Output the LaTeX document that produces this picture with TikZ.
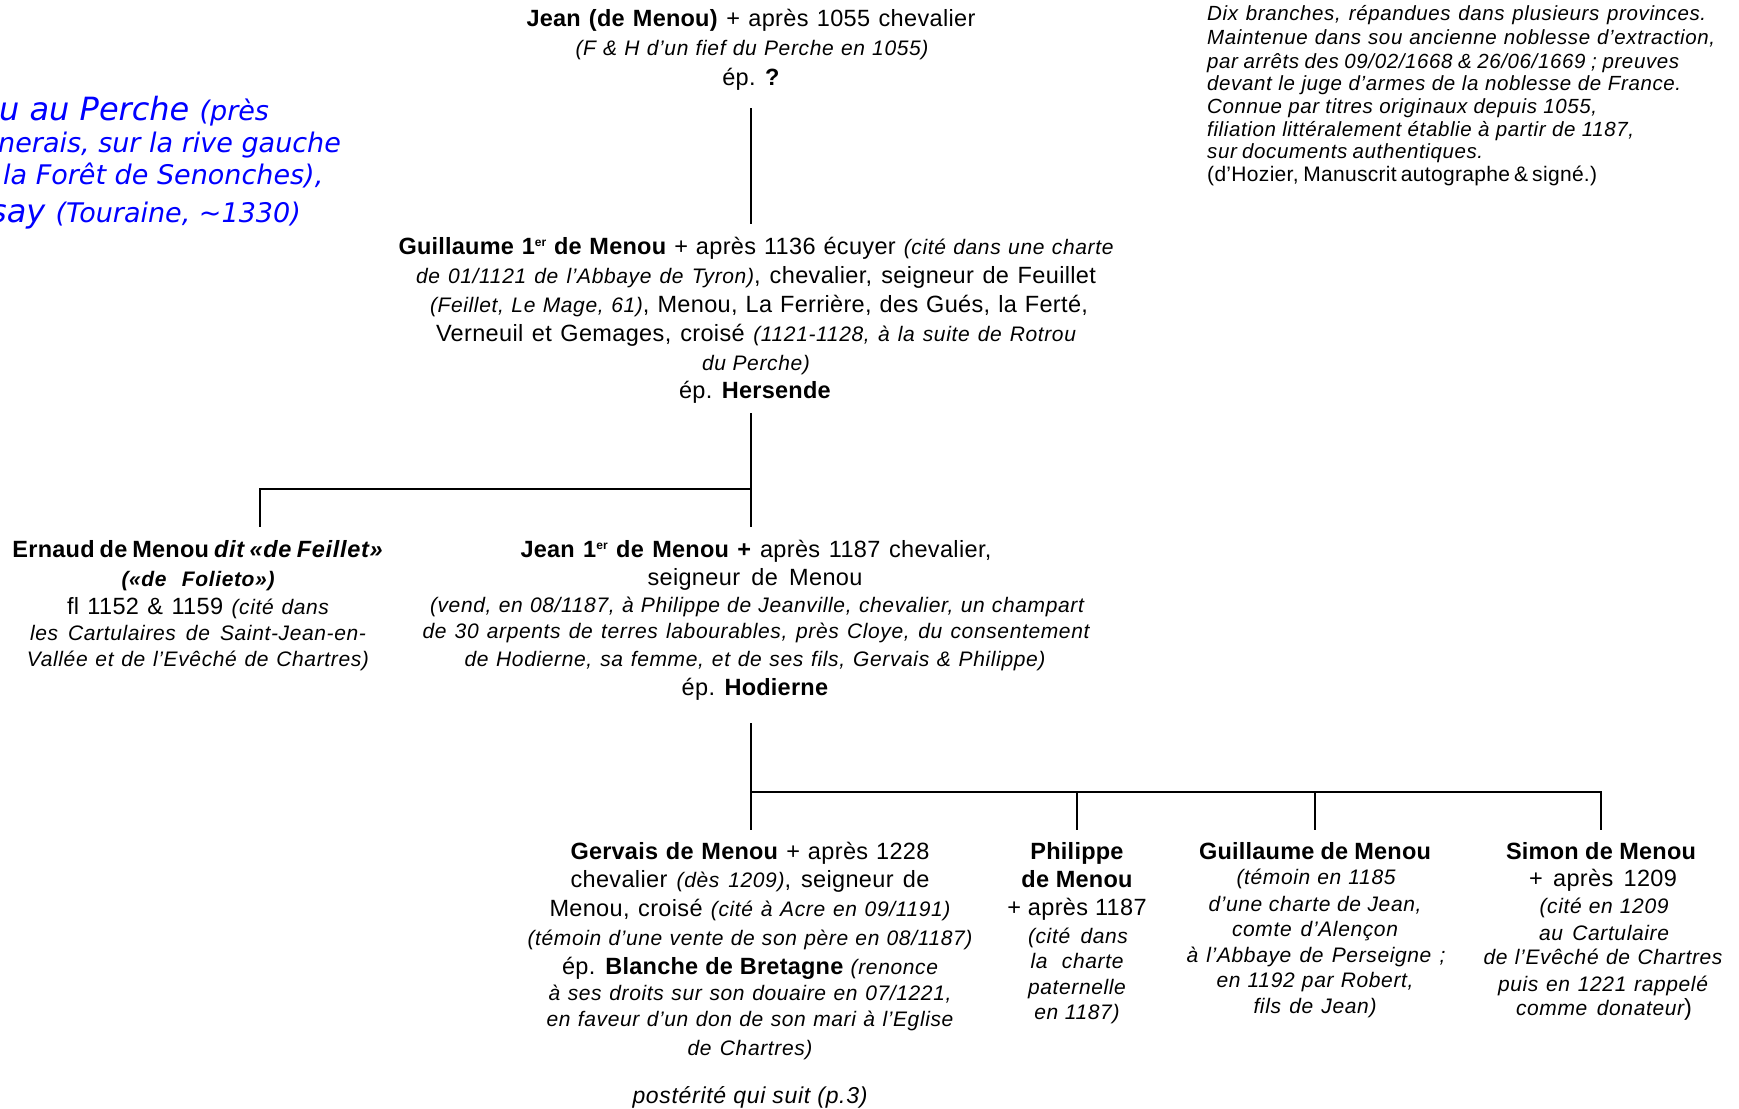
\documentclass[tikz,border=0pt]{standalone}
\usepackage{fontspec}
\setmainfont{Liberation Sans}[UprightFeatures={LetterSpace=1.5},BoldFeatures={LetterSpace=1.0},ItalicFeatures={LetterSpace=3},BoldItalicFeatures={LetterSpace=3}]
\newfontfamily\bluefont{DejaVu Sans}
\definecolor{tblue}{RGB}{0,0,255}
\newcommand\rg{\fontsize{23.5pt}{28pt}\selectfont}
\newcommand\nt{\fontsize{21pt}{25pt}\selectfont\itshape}
\newcommand\tr{\fontsize{20.5pt}{22pt}\selectfont\itshape}
\newcommand\W[2]{\makebox[#1pt][s]{#2}}
\newcommand\bigb{\fontsize{32pt}{32pt}\selectfont}
\newcommand\smb{\fontsize{27pt}{27pt}\selectfont}
\newcommand\ersup{\raisebox{8pt}{\fontsize{12pt}{12pt}\selectfont er}}
\begin{document}
\begin{tikzpicture}[x=1pt,y=-1pt,
  ln/.style={anchor=base,inner sep=0pt,text height=17pt,text depth=5pt},
  lw/.style={ln,anchor=base west},
  bl/.style={anchor=base west,inner sep=0pt,text=tblue,font=\bluefont\itshape},
  link/.style={line width=2.5pt,draw=black,line join=miter}]
\useasboundingbox (0,0) rectangle (1739,1108);

% blue text (cut at left edge, as in the reference)
\node[bl] (b1) at (-1,120) {\bigb u au Perche \smb(près};
\node[bl] (b2) at (-2,152) {\smb nerais, sur la rive gauche};
\node[bl] (b3) at (3,184) {\smb la Forêt de Senonches),};
\node[bl] (b4) at (-10,222) {\bigb say \smb(Touraine, \textasciitilde1330)};

% top right notes
\node[lw] (r1) at (1207,21) {\W{499}{\tr Dix branches, répandues dans plusieurs provinces.}};
\node[lw] (r2) at (1207,45) {\W{508}{\tr Maintenue dans sou ancienne noblesse d’extraction,}};
\node[lw] (r3) at (1207,68) {\W{472}{\tr par arrêts des 09/02/1668 \& 26/06/1669 ; preuves}};
\node[lw] (r4) at (1207,90) {\W{474}{\tr devant le juge d’armes de la noblesse de France.}};
\node[lw] (r5) at (1207,113) {\W{390}{\tr Connue par titres originaux depuis 1055,}};
\node[lw] (r6) at (1207,136) {\W{427}{\tr filiation littéralement établie à partir de 1187,}};
\node[lw] (r7) at (1207,158) {\W{276}{\tr sur documents authentiques.}};
\node[lw] (r8) at (1207,181) {\W{390}{\fontsize{21pt}{22pt}\selectfont (d’Hozier, Manuscrit autographe \& signé.)}};

% Jean (de Menou)
\node[ln] (j1) at (751,27) {\W{449}{\rg\textbf{Jean (de Menou)} + après 1055 chevalier}};
\node[ln] (j2) at (752,56) {\W{353}{\nt(F \& H d’un fief du Perche en 1055)}};
\node[ln] (j3) at (751,85) {\rg ép. \textbf{?}};

% Guillaume 1er
\node[ln] (g1) at (756,254) {\W{715}{\rg\textbf{Guillaume 1\ersup\ de Menou} + après 1136 écuyer {\nt(cité dans une charte}}};
\node[ln] (g2) at (756,283) {\W{680}{\rg{\nt de 01/1121 de l’Abbaye de Tyron)}, chevalier, seigneur de Feuillet}};
\node[ln] (g3) at (759,312) {\W{658}{\rg{\nt(Feillet, Le Mage, 61)}, Menou, La Ferrière, des Gués, la Ferté,}};
\node[ln] (g4) at (756,341) {\W{640}{\rg Verneuil et Gemages, croisé {\nt(1121-1128, à la suite de Rotrou}}};
\node[ln] (g5) at (756,370) {\nt du Perche)};
\node[ln] (g6) at (755,398) {\rg ép. \textbf{Hersende}};

% Ernaud
\node[ln] (e1) at (198,557) {\W{371}{\rg\textbf{Ernaud de Menou \textit{dit «de Feillet»}}}};
\node[ln] (e2) at (198,586) {\W{153}{\nt\bfseries(«de Folieto»)}};
\node[ln] (e3) at (198,614) {\W{262}{\rg fl 1152 \& 1159 {\nt(cité dans}}};
\node[ln] (e4) at (198,640) {\W{336}{\nt les Cartulaires de Saint-Jean-en-}};
\node[ln] (e5) at (198,666) {\W{342}{\nt Vallée et de l’Evêché de Chartres)}};

% Jean 1er
\node[ln] (k1) at (756,557) {\W{471}{\rg\textbf{Jean 1\ersup\ de Menou +} après 1187 chevalier,}};
\node[ln] (k2) at (755,585) {\W{215}{\rg seigneur de Menou}};
\node[ln] (k3) at (757,612) {\W{654}{\nt(vend, en 08/1187, à Philippe de Jeanville, chevalier, un champart}};
\node[ln] (k4) at (756,638) {\W{667}{\nt de 30 arpents de terres labourables, près Cloye, du consentement}};
\node[ln] (k5) at (755,666) {\W{581}{\nt de Hodierne, sa femme, et de ses fils, Gervais \& Philippe)}};
\node[ln] (k6) at (755,695) {\rg ép. \textbf{Hodierne}};

% Gervais
\node[ln] (v1) at (750,859) {\W{359}{\rg\textbf{Gervais de Menou} + après 1228}};
\node[ln] (v2) at (750,887) {\W{359}{\rg chevalier {\nt(dès 1209)}, seigneur de}};
\node[ln] (v3) at (750,916) {\W{401}{\rg Menou, croisé {\nt(cité à Acre en 09/1191)}}};
\node[ln] (v4) at (750,945) {\W{445}{\nt(témoin d’une vente de son père en 08/1187)}};
\node[ln] (v5) at (750,974) {\W{376}{\rg ép. \textbf{Blanche de Bretagne} {\nt(renonce}}};
\node[ln] (v6) at (750,1000) {\W{403}{\nt à ses droits sur son douaire en 07/1221,}};
\node[ln] (v7) at (750,1026) {\W{407}{\nt en faveur d’un don de son mari à l’Eglise}};
\node[ln] (v8) at (750,1055) {\W{125}{\nt de Chartres)}};
\node[ln] (v9) at (750,1103) {\fontsize{23pt}{25pt}\selectfont\itshape postérité qui suit (p.3)};

% Philippe
\node[ln] (p1) at (1077,859) {\rg\bfseries Philippe};
\node[ln] (p2) at (1077,887) {\rg\bfseries de Menou};
\node[ln] (p3) at (1077,915) {\rg + après 1187};
\node[ln] (p4) at (1078,943) {\W{100}{\nt(cité dans}};
\node[ln] (p5) at (1077,968) {\W{93}{\nt la charte}};
\node[ln] (p6) at (1077,994) {\nt paternelle};
\node[ln] (p7) at (1077,1019) {\nt en 1187)};

% Guillaume de Menou
\node[ln] (q1) at (1315,859) {\W{232}{\rg\bfseries Guillaume de Menou}};
\node[ln] (q2) at (1316,884) {\W{159}{\nt(témoin en 1185}};
\node[ln] (q3) at (1315,911) {\W{213}{\nt d’une charte de Jean,}};
\node[ln] (q4) at (1315,936) {\W{166}{\nt comte d’Alençon}};
\node[ln] (q5) at (1316,962) {\W{259}{\nt à l’Abbaye de Perseigne ;}};
\node[ln] (q6) at (1315,987) {\W{197}{\nt en 1192 par Robert,}};
\node[ln] (q7) at (1315,1013) {\W{123}{\nt fils de Jean)}};

% Simon
\node[ln] (s1) at (1601,859) {\W{190}{\rg\bfseries Simon de Menou}};
\node[ln] (s2) at (1603,886) {\W{148}{\rg + après 1209}};
\node[ln] (s3) at (1604,913) {\W{129}{\nt(cité en 1209}};
\node[ln] (s4) at (1604,940) {\W{130}{\nt au Cartulaire}};
\node[ln] (s5) at (1603,964) {\W{239}{\nt de l’Evêché de Chartres}};
\node[ln] (s6) at (1603,991) {\W{210}{\nt puis en 1221 rappelé}};
\node[ln] (s7) at (1604,1015) {\W{176}{\rg{\nt comme donateur})}};

% connectors
\coordinate (ebr) at (260,489);
\coordinate (busB) at (751,792);
\draw[link,shorten <=18pt,shorten >=13pt] (j3.south) -- (j3.south |- g1.north);
\draw[link,shorten <=10pt,shorten >=13pt] (g6.south -| j3.south) -- (j3.south |- k1.north);
\draw[link,shorten >=13pt] (ebr -| j3.south) -- (ebr) -- (ebr |- e1.north);
\draw[link,shorten <=23pt,shorten >=12pt] (k6.south -| j3.south) -- (j3.south |- v1.north);
\draw[link,shorten >=12pt] (busB) -- (busB -| s1.north) -- (s1.north);
\draw[link,shorten >=12pt] (busB -| p1.north) -- (p1.north);
\draw[link,shorten >=12pt] (busB -| q1.north) -- (q1.north);
\end{tikzpicture}
\end{document}
